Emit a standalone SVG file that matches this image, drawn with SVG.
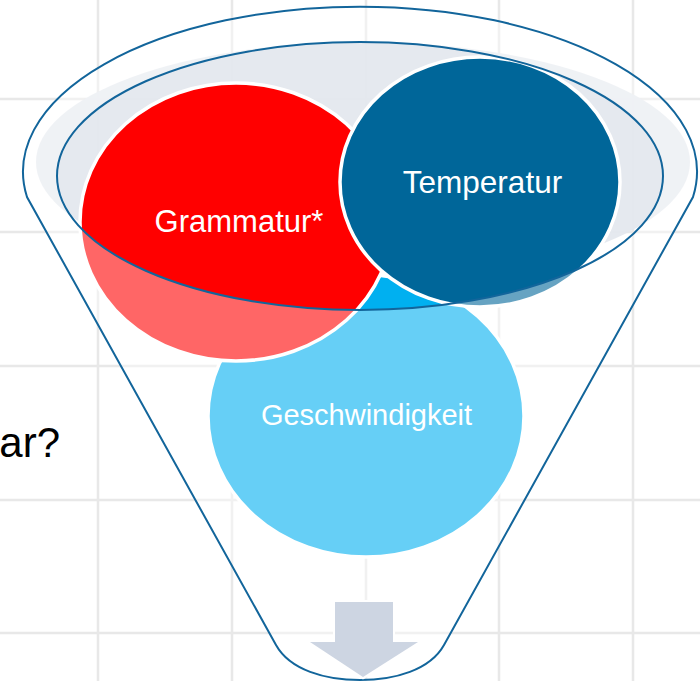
<svg xmlns="http://www.w3.org/2000/svg" width="700" height="681" viewBox="0 0 700 681">
<style>
.grid line{stroke:#e8e8e8;stroke-width:2.5}
.ol{fill:none;stroke:#12659b;stroke-width:2}
.node{stroke:#ffffff;stroke-width:3.5}
.lbl{font-family:"Liberation Sans",Arial,sans-serif;fill:#ffffff;text-anchor:middle}
</style>
<rect width="700" height="681" fill="#ffffff"/>
<g id="grid" class="grid">
<line x1="98" y1="0" x2="98" y2="681"/>
<line x1="232" y1="0" x2="232" y2="681"/>
<line x1="366" y1="0" x2="366" y2="681"/>
<line x1="499" y1="0" x2="499" y2="681"/>
<line x1="633" y1="0" x2="633" y2="681"/>
<line x1="0" y1="99" x2="700" y2="99"/>
<line x1="0" y1="232" x2="700" y2="232"/>
<line x1="0" y1="366" x2="700" y2="366"/>
<line x1="0" y1="500" x2="700" y2="500"/>
<line x1="0" y1="633" x2="700" y2="633"/>
</g>
<g id="funnel-back">
<ellipse cx="363" cy="162" rx="327" ry="120" fill="#e3e7ee" fill-opacity="0.93"/>
</g>
<g id="node-geschwindigkeit">
<ellipse class="node" cx="366" cy="416" rx="158" ry="141" fill="#00b0f0"/>
<text class="lbl" x="366.5" y="425" font-size="29">Geschwindigkeit</text>
</g>
<g id="node-grammatur">
<ellipse class="node" cx="236" cy="222" rx="156" ry="139" fill="#ff0000"/>
<text class="lbl" x="239" y="232" font-size="31">Grammatur*</text>
</g>
<g id="node-temperatur">
<ellipse class="node" cx="480" cy="182" rx="140" ry="125" fill="#006699"/>
<text class="lbl" x="482.5" y="193" font-size="31.5">Temperatur</text>
</g>
<g id="funnel-front">
<path fill="#ffffff" fill-opacity="0.4" fill-rule="evenodd" d="M27,197 A337,165 0 1 1 693,197 L444,645 C430,670 395,680 360,680 C325,680 290,670 276,645 Z M57,176 A303,134 0 1 0 663,176 A303,134 0 1 0 57,176 Z"/>
</g>
<g id="connectors">
<path class="ol" d="M27,197 A337,165 0 1 1 693,197 L444,645 C430,670 395,680 360,680 C325,680 290,670 276,645 Z"/>
<ellipse class="ol" cx="360" cy="176" rx="303" ry="134"/>
</g>
<g id="arrow">
<polygon points="335,602 393,602 393,642 418,642 363,677 310,642 335,642" fill="#cdd5e2" stroke="#ffffff" stroke-width="4" paint-order="stroke"/>
</g>
<text x="60" y="457" font-family="Liberation Sans, Arial, sans-serif" font-size="42" fill="#000000" text-anchor="end">ar?</text>
</svg>
